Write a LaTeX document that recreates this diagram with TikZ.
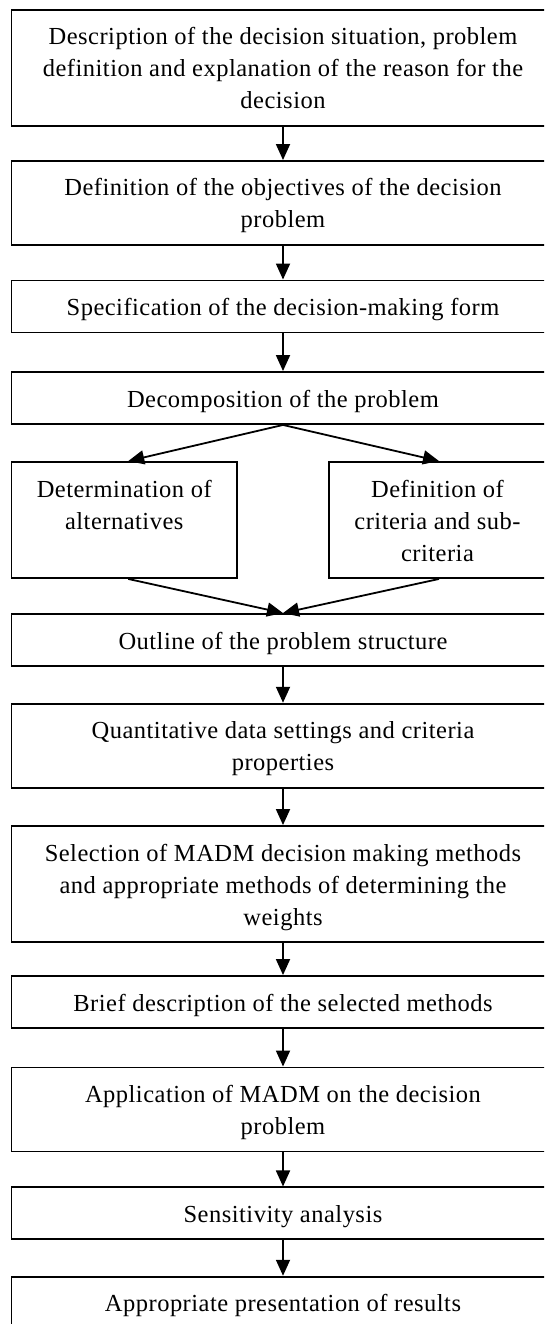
\documentclass[tikz,border=0pt]{standalone}
\usepackage{fontspec}
\setmainfont{Liberation Serif}[LetterSpace=2]
\usetikzlibrary{arrows.meta}

% fixed-height strut so every text line occupies exactly 32pt
\newcommand\lstrut{\rule[-7pt]{0pt}{32pt}}

\tikzset{
  stage/.style={draw, line width=1.9pt, inner sep=0pt, align=center,
    font=\fontsize{24.5}{32}\selectfont, minimum width=543pt},
  one/.style={minimum height=52pt},
  two/.style={minimum height=84pt},
  three/.style={minimum height=116pt},
  flow/.style={line width=1.8pt, -{Triangle[length=16pt,width=14pt]}}
}

\begin{document}
\begin{tikzpicture}
\useasboundingbox (0,0) rectangle (544pt,-1324pt);
\clip (0,0) rectangle (544pt,-1324pt);

\node[stage,three] (s1) at (283pt,-68pt)
  {\lstrut Description of the decision situation, problem\\
   \lstrut definition and explanation of the reason for the\\
   \lstrut decision};
\node[stage,two] (s2) at (283pt,-203pt)
  {\lstrut Definition of the objectives of the decision\\
   \lstrut problem};
\node[stage,one] (s3) at (283pt,-306.5pt)
  {\lstrut Specification of the decision-making form};
\node[stage,one] (s4) at (283pt,-398pt)
  {\lstrut Decomposition of the problem};

\node[stage,three,minimum width=225.5pt] (alt) at (124.25pt,-520pt)
  {\lstrut Determination of\\
   \lstrut alternatives\\
   \lstrut};
\node[stage,three,minimum width=217pt] (crit) at (437.5pt,-520pt)
  {\lstrut Definition of\\
   \lstrut criteria and sub-\\
   \lstrut criteria};

\node[stage,one] (s5) at (283pt,-640pt)
  {\lstrut Outline of the problem structure};
\node[stage,two] (s6) at (283pt,-745.7pt)
  {\lstrut Quantitative data settings and criteria\\
   \lstrut properties};
\node[stage,three] (s7) at (283pt,-884pt)
  {\lstrut Selection of MADM decision making methods\\
   \lstrut and appropriate methods of determining the\\
   \lstrut weights};
\node[stage,one] (s8) at (283pt,-1002pt)
  {\lstrut Brief description of the selected methods};
\node[stage,two] (s9) at (283pt,-1109.5pt)
  {\lstrut Application of MADM on the decision\\
   \lstrut problem};
\node[stage,one] (s10) at (283pt,-1213.4pt)
  {\lstrut Sensitivity analysis};
\node[stage,one] (s11) at (283pt,-1302.7pt)
  {\lstrut Appropriate presentation of results};

\draw[flow] (s1.south) -- (s2.north);
\draw[flow] (s2.south) -- (s3.north);
\draw[flow] (s3.south) -- (s4.north);
\draw[flow] (s4.south) -- ([xshift=4pt]alt.north);
\draw[flow] (s4.south) -- ([xshift=1.5pt]crit.north);
\draw[flow] ([xshift=4pt]alt.south) -- (s5.north);
\draw[flow] ([xshift=1.5pt]crit.south) -- (s5.north);
\draw[flow] (s5.south) -- (s6.north);
\draw[flow] (s6.south) -- (s7.north);
\draw[flow] (s7.south) -- (s8.north);
\draw[flow] (s8.south) -- (s9.north);
\draw[flow] (s9.south) -- (s10.north);
\draw[flow] (s10.south) -- (s11.north);
\end{tikzpicture}
\end{document}
